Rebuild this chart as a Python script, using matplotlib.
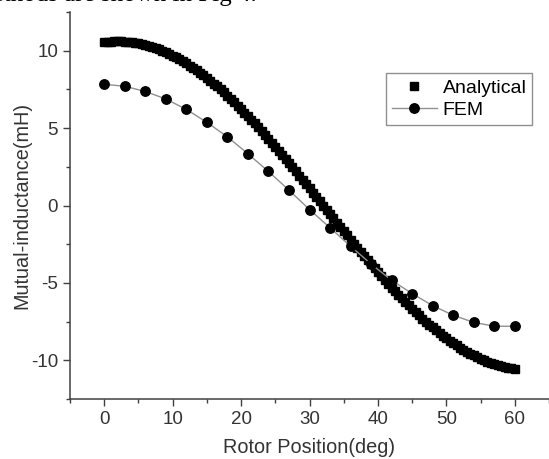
import numpy as np
import matplotlib.pyplot as plt
from matplotlib.ticker import MultipleLocator

# posicao do rotor (graus) para os pontos FEM
theta_fem = [0, 3, 6, 9, 12, 15, 18, 21, 24, 27, 30, 33, 36, 39, 42, 45, 48, 51, 54, 57, 60]
fem = [7.83, 7.70, 7.37, 6.88, 6.21, 5.37, 4.44, 3.34, 2.20, 0.99, -0.26, -1.44, -2.63,
       -3.78, -4.83, -5.69, -6.47, -7.09, -7.55, -7.80, -7.80]

# curva analitica, lida a cada 0.5 grau de 0 a 60
analytical = [10.54, 10.57, 10.59, 10.60, 10.60, 10.60, 10.59, 10.57, 10.54, 10.51,
              10.47, 10.42, 10.37, 10.31, 10.24, 10.16, 10.08, 9.99, 9.90, 9.79,
              9.68, 9.57, 9.44, 9.32, 9.18, 9.04, 8.89, 8.74, 8.58, 8.41,
              8.24, 8.06, 7.88, 7.69, 7.50, 7.30, 7.09, 6.88, 6.67, 6.45,
              6.23, 6.00, 5.77, 5.54, 5.30, 5.06, 4.81, 4.56, 4.31, 4.06,
              3.80, 3.54, 3.28, 3.01, 2.74, 2.47, 2.20, 1.93, 1.66, 1.38,
              1.11, 0.83, 0.55, 0.28, 0.00,
              -0.28, -0.55, -0.83, -1.11, -1.38, -1.66, -1.93, -2.20, -2.47, -2.74,
              -3.01, -3.28, -3.54, -3.80, -4.06, -4.31, -4.56, -4.81, -5.06, -5.30,
              -5.54, -5.77, -6.00, -6.23, -6.45, -6.67, -6.88, -7.09, -7.30, -7.50,
              -7.69, -7.88, -8.06, -8.24, -8.41, -8.58, -8.74, -8.89, -9.04, -9.18,
              -9.32, -9.44, -9.57, -9.68, -9.79, -9.90, -9.99, -10.08, -10.16, -10.24,
              -10.31, -10.37, -10.42, -10.47, -10.51, -10.54]
theta_ana = np.linspace(0, 60, len(analytical))

plt.rcParams['font.family'] = ['Liberation Sans', 'DejaVu Sans']
plt.rcParams['axes.unicode_minus'] = False

fig = plt.figure(figsize=(5.49, 4.59), dpi=100)
ax = fig.add_axes([70 / 549, 1 - 399 / 459, 479 / 549, 387 / 459])

ax.plot(theta_ana, analytical, linestyle='none', marker='s', ms=6.3,
        color='black', label='Analytical')
ax.plot(theta_fem, fem, color='#909090', lw=1.0, marker='o', ms=6.8,
        mfc='black', mec='black', label='FEM')

ax.set_xlim(-5, 65)
ax.set_ylim(-12.5, 12.5)
ax.xaxis.set_major_locator(MultipleLocator(10))
ax.xaxis.set_minor_locator(MultipleLocator(5))
ax.yaxis.set_major_locator(MultipleLocator(5))
ax.yaxis.set_minor_locator(MultipleLocator(2.5))

for s in ['top', 'right']:
    ax.spines[s].set_visible(False)
for s in ['left', 'bottom']:
    ax.spines[s].set_color('#404040')
    ax.spines[s].set_linewidth(1.1)
ax.tick_params(which='major', direction='out', length=5, width=1.0, color='#404040',
               labelsize=13.5, labelcolor='#333333')
ax.tick_params(which='minor', direction='out', length=3, width=1.0, color='#404040')

ax.set_xlabel('Rotor Position(deg)', fontsize=14.3, color='#333333', labelpad=7.5)
ax.set_ylabel('Mutual-inductance(mH)', fontsize=14.3, color='#333333', labelpad=0)

leg = ax.legend(loc='upper right', bbox_to_anchor=(0.965, 0.842), borderaxespad=0,
                fontsize=14, fancybox=False, edgecolor='#909090', framealpha=1,
                handlelength=2.3, handletextpad=0.3, borderpad=0.3, labelspacing=0.25)
leg.get_frame().set_linewidth(1.0)

# texto do paragrafo cortado no topo da imagem
fig.text(257 / 549, 1 - 0.5 / 459, 'methods are shown in Fig 4.', ha='right',
         va='baseline', fontsize=18, family='Liberation Serif')

fig.savefig('out.png', dpi=100)
